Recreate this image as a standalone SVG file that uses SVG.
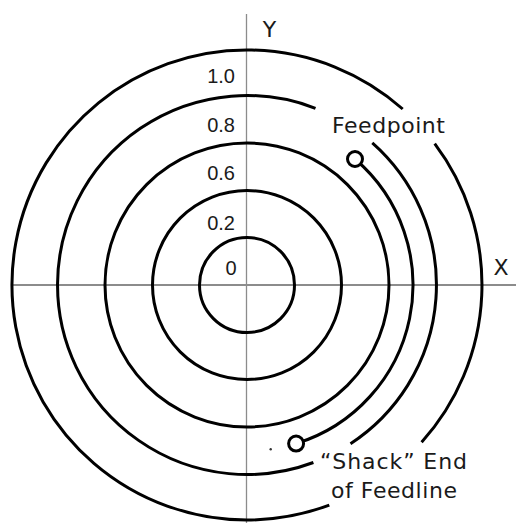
<svg xmlns="http://www.w3.org/2000/svg" width="516" height="523" viewBox="0 0 516 523">
  <style>
    .ring { fill: none; stroke: #000; stroke-width: 3; }
    .axis { fill: none; stroke: #8c8c8c; }
    .lbl { font-family: "DejaVu Sans", "Liberation Sans", sans-serif; font-size: 22px; fill: #1a1a1a; }
    .num { font-family: "Liberation Sans", "DejaVu Sans", sans-serif; font-size: 20px; fill: #1a1a1a; text-anchor: end; }
    .end { fill: #fff; stroke: #000; stroke-width: 3; }
  </style>
  <rect width="516" height="523" fill="#fff"/>
  <g id="axes">
    <line class="axis" x1="246.5" y1="14" x2="246.5" y2="523" stroke-width="1.3" stroke="#707070"/>
    <line class="axis" x1="11" y1="285" x2="516" y2="285" stroke-width="2" stroke="#a0a0a0"/>
  </g>
  <g id="rings">
    <circle id="ring-0" class="ring" cx="247" cy="285" r="47.5"/>
    <circle id="ring-02" class="ring" cx="247" cy="285" r="94.5"/>
    <circle id="ring-06" class="ring" cx="247" cy="285" r="142"/>
    <g id="ring-08">
      <path class="ring" d="M315.5,108.3 A189.5,189.5 0 1 0 313.4,462.5"/>
      <path class="ring" d="M350.5,443.7 A189.5,189.5 0 0 0 372.3,142.9"/>
    </g>
    <g id="ring-10">
      <path class="ring" d="M402.7,109.0 A235,235 0 1 0 329.3,505.1"/>
      <path class="ring" d="M421.6,442.2 A235,235 0 0 0 434.7,143.6"/>
    </g>
  </g>
  <g id="feedline">
    <path class="ring" d="M355,159 A166,166 0 0 1 296.1,443.6"/>
    <circle id="feedpoint-end" class="end" cx="355" cy="159" r="7.5"/>
    <circle id="shack-end" class="end" cx="296.1" cy="443.6" r="7.5"/>
    <circle cx="270.7" cy="449.3" r="1.2" fill="#333"/>
  </g>
  <g id="labels">
    <text class="lbl" x="269.5" y="36.5" text-anchor="middle">Y</text>
    <text class="lbl" x="501" y="275" text-anchor="middle">X</text>
    <text class="num" x="235" y="82.7">1.0</text>
    <text class="num" x="235" y="131.7">0.8</text>
    <text class="num" x="235" y="180">0.6</text>
    <text class="num" x="235" y="230">0.2</text>
    <text class="num" x="236.5" y="275">0</text>
    <text class="lbl" x="332" y="133" textLength="113" lengthAdjust="spacing">Feedpoint</text>
    <text class="lbl" x="320" y="469.3" textLength="147" lengthAdjust="spacing">“Shack” End</text>
    <text class="lbl" x="331" y="498.3" textLength="126" lengthAdjust="spacing">of Feedline</text>
  </g>
</svg>
